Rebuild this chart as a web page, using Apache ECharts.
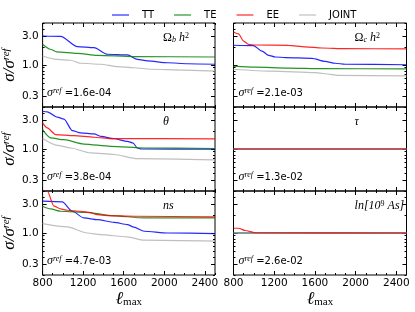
<!DOCTYPE html>
<html><head><meta charset="utf-8">
<script src="https://cdn.jsdelivr.net/npm/echarts@6/dist/echarts.min.js"></script>
<style>html,body{margin:0;padding:0;background:#fff}#c{width:415px;height:312px}</style>
</head><body><div id="c"></div>
<script>
// ---------- data ----------
const seriesNames = ['TT', 'TE', 'EE', 'JOINT'];
const xTickValues = [800, 1200, 1600, 2000, 2400];
const xMinorTickValues = [900, 1000, 1100, 1300, 1400, 1500, 1700, 1800, 1900, 2100, 2200, 2300, 2500];
const yTickValues = [0.3, 1, 3];
const yMinorTickValues = [0.2, 0.4, 0.5, 0.6, 0.7, 0.8, 0.9, 2, 4, 5];
const sigmaRef = ['1.6e-04', '2.1e-03', '3.8e-04', '1.3e-02', '4.7e-03', '2.6e-02'];

// Omega_b h^2
const OBH_TT = [[800,3.04],[978,3.0],[1143,2.02],[1307,1.94],[1439,1.51],[1637,1.47],[1736,1.24],[1835,1.17],[2033,1.09],[2230,1.05],[2500,1.03]];
const OBH_TE = [[800,2.21],[875,1.83],[940,1.65],[1143,1.56],[1340,1.45],[1703,1.38],[2500,1.36]];
const OBH_EE = [];
const OBH_JOINT = [[800,1.41],[940,1.24],[1075,1.2],[1174,1.07],[1373,1.03],[1538,0.94],[1703,0.9],[1868,0.85],[2198,0.82],[2500,0.79]];
// Omega_c h^2
const OCH_TT = [[800,2.13],[997,2.1],[1080,1.7],[1145,1.45],[1210,1.36],[1309,1.33],[1571,1.29],[1700,1.15],[1800,1.07],[1898,1.03],[2500,1.01]];
const OCH_TE = [[800,0.96],[1014,0.92],[1341,0.89],[1669,0.87],[2500,0.86]];
const OCH_EE = [[800,3.55],[849,3.3],[900,2.5],[948,2.2],[1014,2.15],[1341,2.12],[1505,2.0],[1669,1.92],[1898,1.87],[2500,1.85]];
const OCH_JOINT = [[800,0.85],[1177,0.79],[1603,0.745],[1750,0.7],[1832,0.67],[2500,0.66]];
// theta
const TH_TT = [[800,4.25],[846,4.15],[945,3.38],[1011,3.15],[1093,2.02],[1175,1.85],[1307,1.78],[1380,1.62],[1505,1.48],[1637,1.34],[1690,1.26],[1736,1.04],[1770,1.0],[2500,0.99]];
const TH_TE = [[800,2.1],[879,1.53],[1011,1.43],[1208,1.21],[1472,1.11],[1802,1.04],[2500,1.02]];
const TH_EE = [[800,2.72],[846,2.24],[928,1.74],[1110,1.67],[1307,1.57],[1472,1.49],[2500,1.47]];
const TH_JOINT = [[800,1.49],[945,1.15],[1077,1.04],[1274,0.86],[1505,0.81],[1736,0.69],[2500,0.66]];
// tau
const TAU_TT = [[800,1.0],[2500,1.0]];
const TAU_TE = [[800,1.0],[2500,1.0]];
const TAU_EE = [[800,1.0],[2500,1.0]];
const TAU_JOINT = [[800,1.0],[2500,1.0]];
// ns
const NS_TT = [[800,3.38],[994,3.3],[1093,2.3],[1208,1.78],[1340,1.67],[1505,1.5],[1637,1.38],[1700,1.25],[1802,1.07],[2033,1.0],[2500,0.98]];
const NS_TE = [[800,2.79],[879,2.52],[978,2.3],[1241,2.21],[1472,1.95],[1802,1.78],[2500,1.78]];
const NS_EE = [[800,7.5],[846,5.0],[912,2.79],[978,2.52],[1044,2.39],[1175,2.3],[1258,2.21],[1340,2.02],[1439,1.95],[1703,1.9],[2500,1.85]];
const NS_JOINT = [[800,1.43],[1044,1.26],[1241,1.0],[1373,0.94],[1637,0.86],[1802,0.76],[2500,0.73]];
// ln(10^9 As)
const AS_TT = [[800,1.0],[2500,1.0]];
const AS_TE = [[800,1.0],[2500,1.0]];
const AS_EE = [[800,1.2],[849,1.2],[915,1.1],[1014,1.01],[2500,1.0]];
const AS_JOINT = [[800,1.0],[2500,1.0]];

const panelData = [
  {TT: OBH_TT, TE: OBH_TE, EE: OBH_EE, JOINT: OBH_JOINT},
  {TT: OCH_TT, TE: OCH_TE, EE: OCH_EE, JOINT: OCH_JOINT},
  {TT: TH_TT, TE: TH_TE, EE: TH_EE, JOINT: TH_JOINT},
  {TT: TAU_TT, TE: TAU_TE, EE: TAU_EE, JOINT: TAU_JOINT},
  {TT: NS_TT, TE: NS_TE, EE: NS_EE, JOINT: NS_JOINT},
  {TT: AS_TT, TE: AS_TE, EE: AS_EE, JOINT: AS_JOINT}
];
const panelLabels = [
  '{u|Ω}{sub|b}{m| h}{sup|2}',
  '{u|Ω}{sub|c}{m| h}{sup|2}',
  '{m|θ}',
  '{m|τ}',
  '{m|ns}',
  '{m|ln[10}{sup|9}{m| As]}'
];

// ---------- styles / layout ----------
const colors = {TT: '#0000ff', TE: '#008000', EE: '#ff0000', JOINT: '#b4b4b4'};
const drawOrder = ['TT', 'TE', 'JOINT', 'EE'];
const GL = [42, 233.5], GW = 173, GT = [23, 107, 191], GH = 84;
const SERIF = 'Liberation Serif';
const SANS = 'DejaVu Sans';
const mathRich = {
  u: {fontFamily: SERIF, fontSize: 12, color: '#000'},
  m: {fontFamily: SERIF, fontStyle: 'italic', fontSize: 12, color: '#000'},
  sub: {fontFamily: SERIF, fontStyle: 'italic', fontSize: 8, verticalAlign: 'bottom', color: '#000'},
  sup: {fontFamily: SERIF, fontSize: 8, verticalAlign: 'top', color: '#000'},
  s: {fontFamily: SERIF, fontStyle: 'italic', fontSize: 12, color: '#000'},
  r: {fontFamily: SERIF, fontStyle: 'italic', fontSize: 8, verticalAlign: 'top', color: '#000'},
  t: {fontFamily: SANS, fontSize: 10, color: '#000'}
};

const grids = [], xAxes = [], yAxes = [], series = [], graphics = [];
const tickLine = {color: '#000', width: 1};

for (let i = 0; i < 6; i++) {
  const col = i % 2, row = Math.floor(i / 2);
  grids.push({left: GL[col], top: GT[row], width: GW, height: GH, show: true,
    borderColor: '#000', borderWidth: 1, backgroundColor: 'transparent'});
  const bottomRow = row === 2;
  const xCommon = {type: 'value', gridIndex: i, min: 800, max: 2500,
    axisLine: {show: false}, splitLine: {show: false}};
  xAxes.push(Object.assign({}, xCommon, {position: 'bottom',
    axisTick: {show: true, inside: true, length: 4, lineStyle: tickLine, customValues: xTickValues},
    axisLabel: {show: bottomRow, customValues: xTickValues, margin: 3, fontSize: 10.5, fontFamily: SANS, color: '#000',
      formatter: v => String(Math.round(v))},
    name: bottomRow ? '{a|ℓ}{b|max}' : '', nameLocation: 'middle', nameGap: 8,
    nameTextStyle: {rich: {
      a: {fontFamily: SERIF, fontStyle: 'italic', fontSize: 18, color: '#000'},
      b: {fontFamily: SERIF, fontSize: 11, verticalAlign: 'bottom', color: '#000'}}}
  }));
  xAxes.push(Object.assign({}, xCommon, {position: 'bottom',
    axisTick: {show: true, inside: true, length: 2, lineStyle: tickLine, customValues: xMinorTickValues},
    axisLabel: {show: false}}));
  xAxes.push(Object.assign({}, xCommon, {position: 'top',
    axisTick: {show: true, inside: true, length: 4, lineStyle: tickLine, customValues: xTickValues},
    axisLabel: {show: false}}));
  xAxes.push(Object.assign({}, xCommon, {position: 'top',
    axisTick: {show: true, inside: true, length: 2, lineStyle: tickLine, customValues: xMinorTickValues},
    axisLabel: {show: false}}));

  const yCommon = {type: 'log', logBase: 10, gridIndex: i, min: 0.2, max: 5,
    axisLine: {show: false}, splitLine: {show: false}};
  yAxes.push(Object.assign({}, yCommon, {position: 'left',
    axisTick: {show: true, inside: true, length: 4, lineStyle: tickLine, customValues: yTickValues},
    axisLabel: {show: col === 0, customValues: yTickValues, margin: 4, fontSize: 10.5, fontFamily: SANS, color: '#000',
      formatter: v => Number(v).toFixed(1)},
    name: col === 0 ? '{a|σ/σ}{b|ref}' : '', nameLocation: 'middle', nameGap: 22, nameRotate: 90,
    nameTextStyle: {rich: {
      a: {fontFamily: SERIF, fontStyle: 'italic', fontSize: 17, color: '#000'},
      b: {fontFamily: SERIF, fontStyle: 'italic', fontSize: 11, verticalAlign: 'top', color: '#000'}}}
  }));
  yAxes.push(Object.assign({}, yCommon, {position: 'left',
    axisTick: {show: true, inside: true, length: 2, lineStyle: tickLine, customValues: yMinorTickValues},
    axisLabel: {show: false}}));
  yAxes.push(Object.assign({}, yCommon, {position: 'right',
    axisTick: {show: true, inside: true, length: 4, lineStyle: tickLine, customValues: yTickValues},
    axisLabel: {show: false}}));
  yAxes.push(Object.assign({}, yCommon, {position: 'right',
    axisTick: {show: true, inside: true, length: 2, lineStyle: tickLine, customValues: yMinorTickValues},
    axisLabel: {show: false}}));

  drawOrder.forEach((nm, k) => {
    series.push({type: 'line', name: nm, xAxisIndex: 4 * i, yAxisIndex: 4 * i,
      data: panelData[i][nm], showSymbol: false, symbol: 'none', clip: true,
      smooth: 0.25, smoothMonotone: 'x',
      lineStyle: {width: 1.2, color: colors[nm], opacity: 0.85}, itemStyle: {color: colors[nm]},
      z: 2 + k, silent: true, animation: false});
  });

  graphics.push({type: 'text', left: GL[col] + 0.70 * GW, top: GT[row] + 9, z: 100,
    style: {text: panelLabels[i], rich: mathRich}});
  graphics.push({type: 'text', left: GL[col] + 5, top: GT[row] + 64, z: 100,
    style: {text: '{s|σ}{r|ref}{t| =' + sigmaRef[i] + '}', rich: mathRich}});
}

const chart = echarts.init(document.getElementById('c'), null, {renderer: 'canvas'});
chart.setOption({
  animation: false,
  backgroundColor: '#fff',
  legend: {top: 5, left: 107, itemWidth: 17, itemHeight: 2, itemGap: 20, icon: 'rect',
    data: seriesNames, selectedMode: false, itemStyle: {opacity: 0.5},
    textStyle: {fontSize: 10, fontFamily: SANS, color: '#000', padding: [0, 0, 0, 8]}},
  grid: grids,
  xAxis: xAxes,
  yAxis: yAxes,
  series: series,
  graphic: graphics
});
</script></body></html>
